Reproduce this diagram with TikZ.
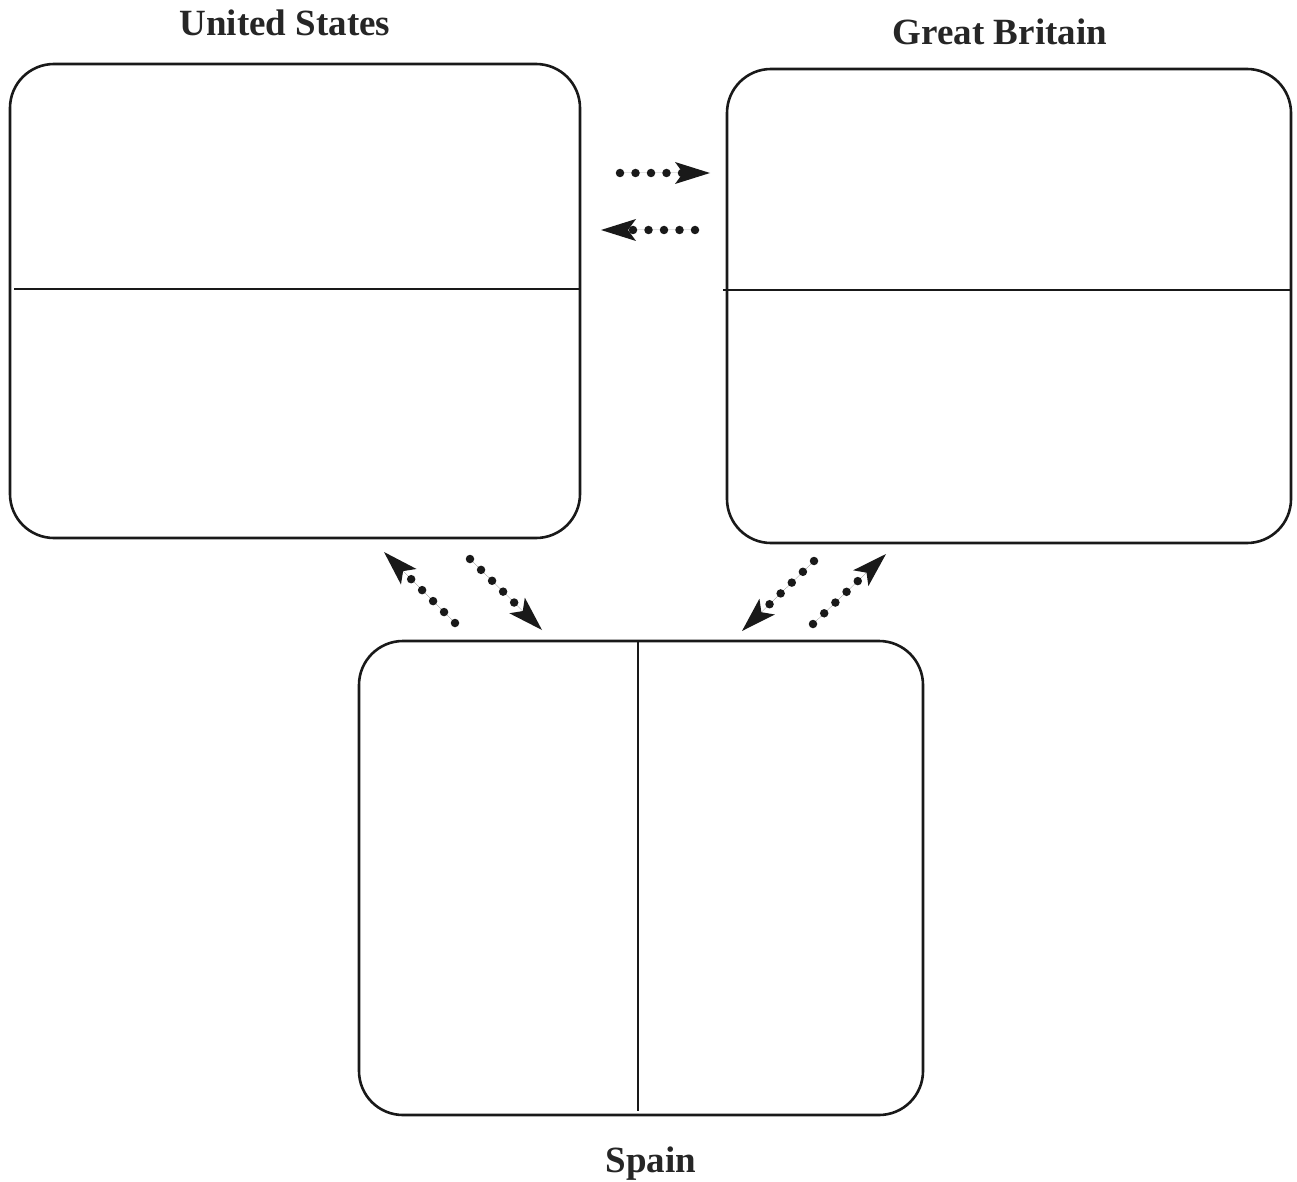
\documentclass[tikz,border=0pt]{standalone}
\usepackage{fontspec}
\setmainfont{Liberation Serif}
\usetikzlibrary{arrows.meta}
\begin{document}
\begin{tikzpicture}[x=1pt,y=-1pt,
  panel/.style={draw=black!90,line width=2.6pt,rounded corners=44pt},
  divider/.style={draw=black!90,line width=2.4pt},
  lbl/.style={font=\bfseries\fontsize{37}{42}\selectfont,text=black!85,anchor=base,inner sep=0pt},
  dotarrow/.style={draw=black!90,fill=black!90,line width=8.5pt,line cap=round,dash pattern=on 0pt off 15.5pt,
    -{Stealth[length=35pt,width=22pt,inset=8pt,line width=0pt]}}]
\useasboundingbox (0,0) rectangle (1297,1182);
% boxes
\draw[panel] (10,64) rectangle (580,538);
\draw[panel] (727,69) rectangle (1291,543);
\draw[panel] (359,641) rectangle (923,1115);
% dividers
\coordinate (usL) at (14,289); \coordinate (usR) at (580,289);
\coordinate (gbL) at (723,290); \coordinate (gbR) at (1291,290);
\coordinate (spT) at (638,641); \coordinate (spB) at (638,1111);
\draw[divider] (usL) -- (usR);
\draw[divider] (gbL) -- (gbR);
\draw[divider] (spT) -- (spB);
% labels
\node[lbl] (us) at (285,36) {United States};
\node[lbl] (gb) at (1000,45) {Great Britain};
\node[lbl] (sp) at (651,1172) {Spain};
% arrow ends
\coordinate (a1s) at (620,173); \coordinate (a1e) at (710,173);
\coordinate (a2s) at (695,230); \coordinate (a2e) at (601,230);
\coordinate (a3s) at (455,623); \coordinate (a3e) at (384,552);
\coordinate (a4s) at (470,559); \coordinate (a4e) at (542,630);
\coordinate (a5s) at (814,561); \coordinate (a5e) at (742,631);
\coordinate (a6s) at (813,624); \coordinate (a6e) at (886,554);
\draw[dotarrow] (a1s) -- (a1e);
\draw[dotarrow] (a2s) -- (a2e);
\draw[dotarrow] (a3s) -- (a3e);
\draw[dotarrow] (a4s) -- (a4e);
\draw[dotarrow] (a5s) -- (a5e);
\draw[dotarrow] (a6s) -- (a6e);
\end{tikzpicture}
\end{document}
